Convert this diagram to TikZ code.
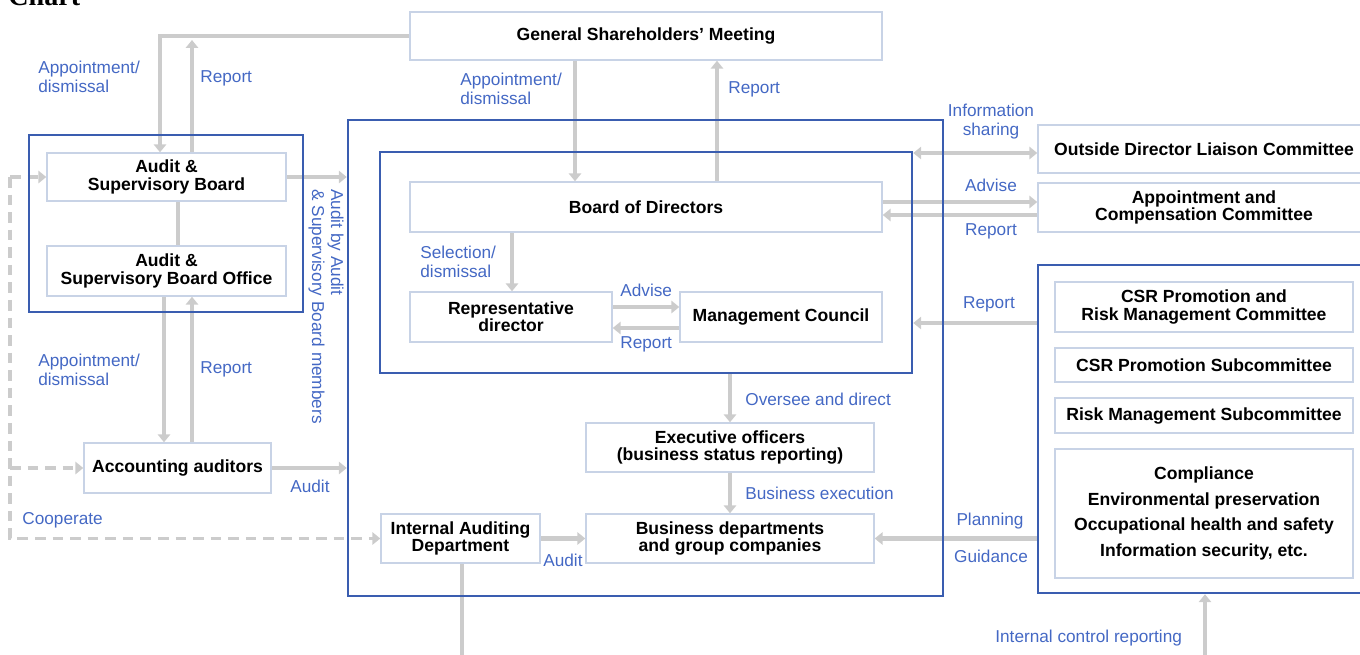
\documentclass[tikz,border=0pt]{standalone}
\usepackage{fontspec}
\setmainfont{Liberation Sans}
\newfontfamily\titlefont{Liberation Serif}
\usetikzlibrary{arrows.meta,backgrounds}
\definecolor{frameblue}{HTML}{3A5DB0}
\definecolor{labelblue}{HTML}{4468C4}
\definecolor{boxline}{HTML}{C8D3E6}
\definecolor{arrowgray}{HTML}{CCCCCC}

\begin{document}
\begin{tikzpicture}[x=0.02cm,y=-0.02cm,
    >={Triangle[length=4.5pt,width=7pt]},
    boxsize/.style 2 args={minimum width=#1*0.02cm,minimum height=#2*0.02cm},
    box/.style={draw=boxline,line width=0.8pt,fill=white,inner sep=1pt,align=center,
      font=\fontsize{10}{9.8}\selectfont\bfseries},
    blueframe/.style={draw=frameblue,line width=1.4pt,inner sep=0pt},
    lbl/.style={text=labelblue,inner sep=0pt,align=left,font=\fontsize{9.8}{10.8}\selectfont},
    arr/.style={draw=arrowgray,line width=2.3pt,->},
    link/.style={draw=arrowgray,line width=2.3pt},
    dasharr/.style={draw=arrowgray,line width=2.1pt,dash pattern=on 6pt off 4pt,->}]
    \useasboundingbox (0,0) rectangle (1360,654);
    \node[anchor=base west,inner sep=0pt,font=\titlefont\bfseries\fontsize{16}{16}\selectfont] (title) at (8,5) {Chart};

    % frames
    \node[blueframe,boxsize={274}{177}] (asbframe) at (166,223.5) {};
    \node[blueframe,boxsize={595}{476}] (compframe) at (645.5,358) {};
    \node[blueframe,boxsize={532}{221}] (boardframe) at (646,262.5) {};
    \node[blueframe,boxsize={334}{328}] (csrframe) at (1205,429) {};

    % boxes
    \node[box,boxsize={472}{48}] (gsm) at (646,36) {General Shareholders’ Meeting};
    \node[box,boxsize={239}{48}] (asb) at (166.5,177) {Audit \&\\Supervisory Board};
    \node[box,boxsize={239}{50}] (asbo) at (166.5,271) {Audit \&\\Supervisory Board Office};
    \node[box,boxsize={187}{50}] (acc) at (177.5,468) {Accounting auditors};
    \node[box,boxsize={472}{50}] (bod) at (646,207) {Board of Directors};
    \node[box,boxsize={202}{50}] (rep) at (511,317) {Representative\\director};
    \node[box,boxsize={202}{50}] (mc) at (781,317) {Management Council};
    \node[box,boxsize={288}{49}] (exec) at (730,447.5) {Executive officers\\(business status reporting)};
    \node[box,boxsize={288}{49}] (bus) at (730,538.5) {Business departments\\and group companies};
    \node[box,boxsize={159}{49}] (iad) at (460.5,538.5) {Internal Auditing\\Department};
    \node[box,boxsize={332}{48}] (odlc) at (1204,149) {Outside Director Liaison Committee};
    \node[box,boxsize={332}{49}] (apcc) at (1204,207.5) {Appointment and\\Compensation Committee};
    \node[box,boxsize={298}{50}] (csrc) at (1204,307) {CSR Promotion and\\Risk Management Committee};
    \node[box,boxsize={298}{34}] (csrsub) at (1204,365) {CSR Promotion Subcommittee};
    \node[box,boxsize={298}{35}] (risksub) at (1204,415.5) {Risk Management Subcommittee};
    \node[box,boxsize={298}{129},font=\fontsize{10}{14.7}\selectfont\bfseries] (compl) at (1204,513.5)
      {Compliance\\Environmental preservation\\Occupational health and safety\\Information security, etc.};

    % labels
    \node[lbl,anchor=west] (lappt1) at (38,77) {Appointment/\\dismissal};
    \node[lbl,anchor=west] (lrep1) at (200,78) {Report};
    \node[lbl,anchor=west] (lappt2) at (38,370) {Appointment/\\dismissal};
    \node[lbl,anchor=west] (lrep2) at (200,369) {Report};
    \node[lbl,anchor=west] (laudit1) at (290,486) {Audit};
    \node[lbl,anchor=west] (lcoop) at (22,520) {Cooperate};
    \node[lbl,rotate=-90,anchor=north west] (lasbm) at (344,189) {Audit by Audit\\\& Supervisory Board members};
    \node[lbl,anchor=west] (lappt3) at (460,89) {Appointment/\\dismissal};
    \node[lbl,anchor=west] (lrep3) at (728,89) {Report};
    \node[lbl,anchor=west] (lsel) at (420,262) {Selection/\\dismissal};
    \node[lbl,anchor=west] (ladv1) at (620,290) {Advise};
    \node[lbl,anchor=west] (lrep4) at (620,344) {Report};
    \node[lbl,align=center] (linfo) at (991,122) {Information\\sharing};
    \node[lbl] (ladv2) at (991,185) {Advise};
    \node[lbl] (lrep5) at (991,231) {Report};
    \node[lbl] (lrep6) at (989,304) {Report};
    \node[lbl,anchor=west] (lover) at (745,399) {Oversee and direct};
    \node[lbl,anchor=west] (lexec) at (745,493) {Business execution};
    \node[lbl,anchor=west] (laudit2) at (543,560) {Audit};
    \node[lbl] (lplan) at (990,521) {Planning};
    \node[lbl] (lguide) at (991,556) {Guidance};
    \node[lbl,anchor=west] (licr) at (995,638) {Internal control reporting};

    % connectors
    \begin{pgfonlayer}{background}
    \coordinate (gsmline) at (192,40);
    \draw[arr] (gsm.west) -| (asb.north -| 160,0);
    \draw[arr] (asb.north -| 192,0) -- (gsmline);
    \draw[link] (asb.south -| 178,0) -- (asbo.north -| 178,0);
    \draw[arr] (asbo.south -| 164,0) -- (acc.north -| 164,0);
    \draw[arr] (acc.north -| 192,0) -- (asbo.south -| 192,0);
    \draw[arr] (asb.east) -- (asb.east -| compframe.west);
    \draw[arr] (acc.east) -- (acc.east -| compframe.west);
    \draw[dasharr] (asb.west -| 10,0) |- (iad.west);
    \draw[dasharr] (asb.west -| 10,0) -- (asb.west);
    \draw[dasharr] (acc.west -| 10,0) -- (acc.west);
    \draw[arr] (gsm.south -| 575,0) -- (bod.north -| 575,0);
    \draw[arr] (bod.north -| 717,0) -- (gsm.south -| 717,0);
    \draw[arr] (bod.south -| 512,0) -- (rep.north -| 512,0);
    \draw[arr] (rep.east |- 0,307) -- (mc.west |- 0,307);
    \draw[arr] (mc.west |- 0,328) -- (rep.east |- 0,328);
    \draw[arr,<->] (boardframe.east |- 0,153) -- (odlc.west |- 0,153);
    \draw[arr] (bod.east |- 0,202) -- (apcc.west |- 0,202);
    \draw[arr] (apcc.west |- 0,215) -- (bod.east |- 0,215);
    \draw[arr] (csrframe.west |- 0,323) -- (boardframe.east |- 0,323);
    \draw[arr] (boardframe.south -| exec.north) -- (exec.north);
    \draw[arr] (exec.south) -- (bus.north);
    \draw[arr] (iad.east) -- (bus.west);
    \draw[arr] (csrframe.west |- bus.east) -- (bus.east);
    \draw[link] (iad.south -| 462,0) -- (462,660);
    \draw[arr] (1205,660) -- (csrframe.south -| 1205,0);
    \end{pgfonlayer}
\end{tikzpicture}
\end{document}
